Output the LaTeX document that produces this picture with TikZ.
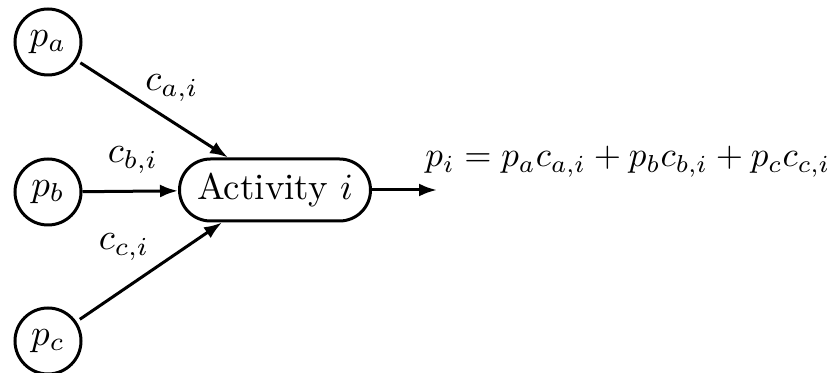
\documentclass[tikz,border=0pt]{standalone}
\usepackage{graphicx}
\usetikzlibrary{arrows.meta}
\newcommand\bigtxt[1]{\scalebox{1.85}{#1}}
\begin{document}
\begin{tikzpicture}[x=0.5pt,y=-0.5pt,
  place/.style={draw,line width=1.5pt,circle,minimum size=33pt,inner sep=0pt},
  actbox/.style={draw,line width=1.5pt,rounded corners=15.5pt,minimum width=95.5pt,minimum height=31pt,inner sep=0pt},
  conn/.style={line width=1.5pt,-{Latex[length=9pt,width=6.5pt]}},
  lbl/.style={inner sep=0pt}]
\useasboundingbox (0,0) rectangle (840,373);
\node[place] (pa) at (48,42) {\bigtxt{$p_a$}};
\node[place] (pb) at (48,192) {\bigtxt{$p_b$}};
\node[place] (pc) at (48,341) {\bigtxt{$p_c$}};
\node[actbox] (act) at (275,190) {\bigtxt{Activity $i$}};
\coordinate (out) at (437,190);
\node[lbl,anchor=base west] (eq) at (425,167) {\scalebox{1.75}{$p_i = p_a c_{a,i} + p_b c_{b,i} + p_c c_{c,i}$}};
\node[lbl] (la) at (172,88) {\bigtxt{$c_{a,i}$}};
\node[lbl] (lb) at (133,160) {\bigtxt{$c_{b,i}$}};
\node[lbl] (lc) at (124,247) {\bigtxt{$c_{c,i}$}};
\draw[conn,shorten <=2pt] (pa) -- ([xshift=-23.5pt]act.north);
\draw[conn] (pb) -- (act);
\draw[conn,shorten <=2pt] (pc) -- ([xshift=-26.5pt]act.south);
\draw[conn] (act) -- (out);
\end{tikzpicture}
\end{document}
